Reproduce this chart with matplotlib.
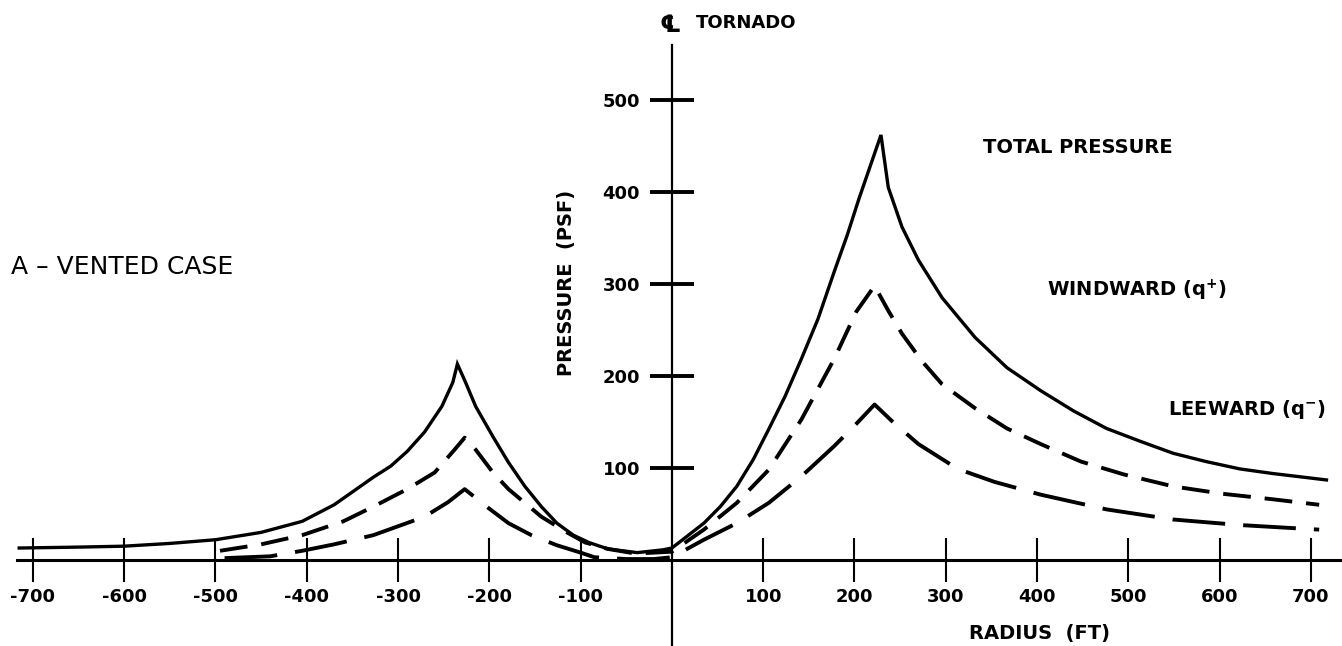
import matplotlib
matplotlib.use("Agg")
import matplotlib.pyplot as plt

plt.rcParams["font.family"] = "DejaVu Sans"
plt.rcParams["font.weight"] = "bold"
plt.rcParams["mathtext.default"] = "regular"
plt.rcParams["lines.scale_dashes"] = False

# radius (ft) / pressure (psf)
total_r = [-715, -650, -600, -550, -500, -450, -405, -370, -327, -308, -290, -271, -252,
           -240, -235, -226, -215, -196, -179, -161, -143, -126, -108, -91, -70, -38,
           -10, 0, 35, 53, 71, 89, 106, 124, 142, 160, 178, 192, 205, 229, 237, 252,
           270, 296, 332, 367, 404, 440, 476, 513, 549, 585, 622, 658, 717]
total_p = [13, 14, 15, 18, 22, 30, 42, 60, 90, 102, 118, 139, 167,
           193, 213, 193, 167, 134, 106, 80, 58, 40, 27, 19, 12, 8,
           11, 13, 40, 58, 80, 109, 142, 178, 219, 262, 314, 353, 393, 462, 405, 362,
           326, 285, 242, 209, 184, 162, 143, 129, 116, 107, 99, 94, 87]

windward_r = [-495, -450, -405, -360, -327, -290, -260, -238, -227, -215, -196, -179,
              -143, -115, -95, -70, -40, 0, 35, 71, 106, 142, 178, 202, 222, 237, 252,
              274, 296, 332, 367, 404, 448, 495, 549, 603, 658, 709]
windward_p = [10, 17, 27, 42, 58, 77, 95, 120, 133, 120, 95, 77,
              47, 30, 19, 12, 7, 9, 33, 62, 98, 153, 219, 270, 298, 271, 246,
              216, 191, 165, 143, 126, 107, 93, 80, 72, 66, 60]

leeward_r = [-490, -440, -405, -370, -327, -271, -245, -227, -203, -179, -154, -126,
             -100, -85, -50, -20, 0, 35, 71, 106, 142, 178, 202, 222, 241, 270, 313,
             353, 404, 476, 549, 622, 709]
leeward_p = [2, 4, 10, 17, 27, 47, 63, 77, 58, 40, 27, 16,
             8, 3, 1, 1, 3, 22, 40, 62, 91, 124, 148, 169, 151, 126, 99,
             85, 71, 55, 44, 38, 33]

x_ticks = [-700, -600, -500, -400, -300, -200, -100, 100, 200, 300, 400, 500, 600, 700]
x_tick_labels = [str(v) for v in x_ticks]
y_ticks = [100, 200, 300, 400, 500]
y_tick_labels = [str(v) for v in y_ticks]

fig = plt.figure(figsize=(13.42, 6.46), dpi=100)
ax = fig.add_axes([0, 0, 1, 1])
ax.set_xlim(-736, 734)
ax.set_ylim(-93.5, 608.7)

ax.plot(total_r, total_p, color="black", lw=2.4, solid_joinstyle="miter")
ax.plot(windward_r, windward_p, color="black", lw=2.8, dashes=(20, 10))
ax.plot(leeward_r, leeward_p, color="black", lw=2.8, dashes=(38, 13))

# axes crossing at the origin
for side in ["top", "right"]:
    ax.spines[side].set_visible(False)
ax.spines["bottom"].set_position(("data", 0))
ax.spines["left"].set_position(("data", 0))
ax.spines["bottom"].set_bounds(-717, 734)
ax.spines["left"].set_bounds(-93.5, 560)
ax.spines["bottom"].set_linewidth(2.2)
ax.spines["left"].set_linewidth(1.6)

ax.set_xticks(x_ticks)
ax.set_xticklabels(x_tick_labels)
ax.set_yticks(y_ticks)
ax.set_yticklabels(y_tick_labels)
ax.tick_params(axis="x", direction="inout", length=32, width=1.5, pad=4, labelsize=13)
ax.tick_params(axis="y", direction="inout", length=32, width=2.8, pad=7, labelsize=13)

ax.text(-724, 318, "A \u2013 VENTED CASE", fontsize=18, fontweight="normal",
        ha="left", va="center")
ax.text(341, 448, "TOTAL PRESSURE", fontsize=14, ha="left", va="center")
ax.text(411, 293, "WINDWARD (q$^{+}$)", fontsize=14, ha="left", va="center")
ax.text(543, 164, "LEEWARD (q$^{-}$)", fontsize=14, ha="left", va="center")
ax.text(-14, 582, "\u2104", fontsize=17, ha="left", va="center")
ax.text(26, 584, "TORNADO", fontsize=13, ha="left", va="center")
ax.text(-115, 301, "PRESSURE  (PSF)", fontsize=14, rotation=90, ha="center", va="center")
ax.text(403, -80, "RADIUS  (FT)", fontsize=14, ha="center", va="center")

fig.savefig("out.png", dpi=100)
